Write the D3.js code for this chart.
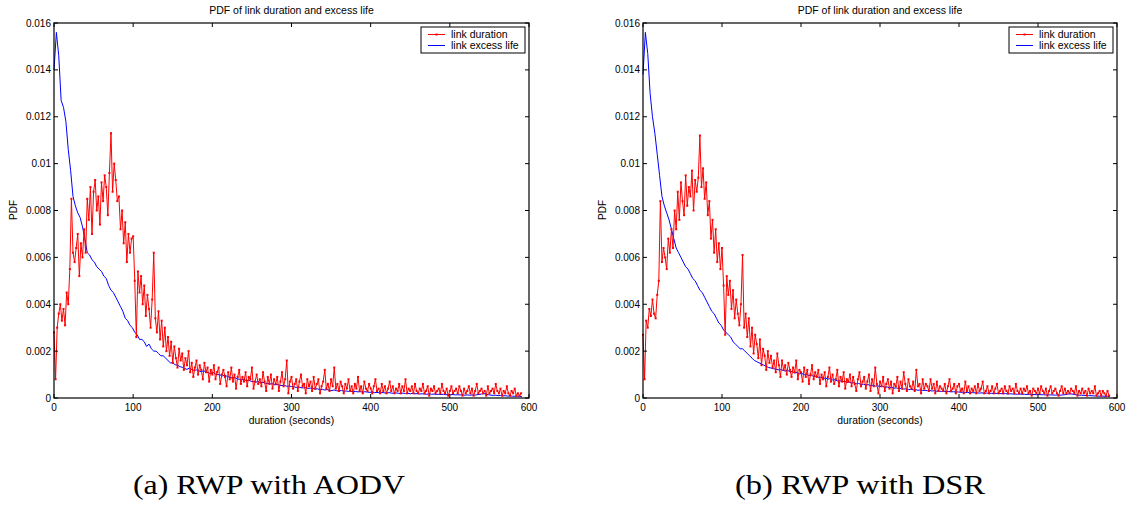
<!DOCTYPE html>
<meta charset="utf-8">
<style>
body { margin: 0; background: #fff; }
text { font-family: 'Liberation Sans', Arial, sans-serif; fill: #000; }
.caption { font-family: 'Liberation Serif', 'DejaVu Serif', serif; }
</style>
<body>
<svg width="1139" height="515"></svg>
<script src="https://d3js.org/d3.v7.min.js"></script>
<script>

// bin widths of the histograms, in seconds
var durationStep = 2;
var excessStep = 3;

var xTicks = [0, 100, 200, 300, 400, 500, 600];
var yTicks = [0, 0.002, 0.004, 0.006, 0.008, 0.01, 0.012, 0.014, 0.016];
var yTickLabels = ["0", "0.002", "0.004", "0.006", "0.008", "0.01", "0.012", "0.014", "0.016"];
var seriesNames = ["link duration", "link excess life"];
var captions = ["(a) RWP with AODV", "(b) RWP with DSR"];

// PDF values in units of 1e-4; link duration one per 2 s bin, excess life one per 3 s bin
var durationA = [
  28, 8, 30, 36, 40, 33, 38, 31, 45, 40,
  55, 85, 62, 58, 64, 70, 52, 66, 60, 72,
  62, 85, 76, 90, 70, 88, 93, 80, 86, 74,
  92, 84, 95, 90, 78, 96, 113, 88, 100, 93,
  84, 86, 72, 80, 66, 75, 58, 70, 62, 68,
  69, 50, 26, 54, 45, 52, 40, 48, 35, 44,
  38, 30, 42, 62, 34, 28, 37, 25, 33, 22,
  30, 20, 26, 18, 24, 15, 22, 17, 13, 21,
  16, 19, 12, 17, 14, 20, 11, 15, 9, 13,
  16, 10, 14, 12, 8, 15, 11, 13, 7, 12,
  10, 14, 8, 11, 13, 6, 10, 12, 9, 5,
  11, 8, 13, 7, 10, 4, 9, 12, 6, 9,
  7, 11, 5, 9, 8, 13, 4, 7, 10, 6,
  8, 5, 11, 7, 3, 9, 6, 10, 4, 8,
  6, 9, 3, 7, 11, 5, 8, 16, 2, 7,
  9, 4, 6, 8, 3, 7, 10, 5, 6, 2,
  8, 5, 7, 3, 9, 4, 6, 8, 2, 5,
  7, 12, 4, 6, 3, 8, 5, 13, 4, 6,
  3, 7, 5, 2, 6, 4, 8, 3, 5, 2,
  6, 4, 9, 3, 5, 2, 7, 4, 3, 6,
  4, 2, 5, 8, 3, 4, 2, 6, 3, 5,
  2, 4, 7, 3, 5, 2, 4, 3, 6, 2,
  5, 3, 8, 2, 4, 3, 5, 2, 6, 3,
  2, 4, 3, 6, 2, 3, 5, 1, 4, 3,
  5, 2, 3, 4, 2, 6, 3, 2, 4, 1,
  3, 5, 2, 3, 4, 2, 5, 3, 1, 4,
  2, 3, 5, 2, 4, 1, 3, 6, 2, 3,
  4, 2, 3, 1, 5, 2, 3, 4, 2, 6,
  3, 2, 4, 1, 3, 2, 5, 2, 1, 3,
  2, 4, 1, 2, 1, 2
];

var excessA = [
  140, 156, 146, 127, 124, 118, 106, 97, 86, 82,
  79, 77, 73, 68, 62, 61, 59, 58, 56, 55,
  54, 52, 51, 48, 46, 45, 43, 41, 39, 37,
  34, 33, 31, 30, 28, 27, 25, 25, 24, 22,
  23, 21, 20, 20, 19, 18, 18, 17, 16, 15,
  15, 14.2, 14, 13.4, 13.1, 12.6, 12.2, 12.8, 12.1, 11.8,
  12.0, 11.6, 11.2, 11.7, 11.0, 10.8, 10.4, 10.9, 10.2, 10.0,
  9.8, 9.4, 9.8, 9.1, 8.9, 8.5, 8.8, 8.2, 8.0, 7.8,
  7.9, 7.4, 7.6, 7.1, 7.0, 6.8, 7.0, 6.5, 6.7, 6.3,
  6.2, 6.0, 6.1, 5.6, 5.8, 5.4, 5.3, 5.4, 5.0, 5.1,
  4.9, 4.8, 4.5, 4.7, 4.4, 4.3, 4.4, 4.1, 4.2, 4.0,
  3.8, 3.9, 3.5, 3.7, 3.4, 3.6, 3.3, 3.2, 3.4, 3.1,
  3.0, 3.2, 2.9, 3.0, 2.8, 2.9, 2.7, 2.8, 2.6, 2.7,
  2.5, 2.7, 2.5, 2.4, 2.6, 2.3, 2.4, 2.2, 2.4, 2.2,
  2.1, 2.3, 2.1, 2.0, 2.2, 2.0, 1.9, 2.1, 1.9, 2.0,
  1.8, 2.0, 1.8, 1.9, 1.7, 1.8, 1.7, 1.6, 1.8, 1.6,
  1.7, 1.5, 1.6, 1.5, 1.6, 1.4, 1.5, 1.4, 1.5, 1.3,
  1.4, 1.3, 1.4, 1.2, 1.3, 1.2, 1.3, 1.2, 1.4, 1.5,
  1.7, 1.9, 1.6, 1.4, 1.2, 1.1, 1.2, 1.0, 1.1, 0.9,
  1.0, 0.8, 0.9, 0.8, 0.7, 0.8, 0.7, 0.6
];

var durationB = [
  27, 8, 33, 30, 38, 35, 42, 36, 34, 44,
  50, 84, 58, 64, 60, 55, 68, 62, 72, 64,
  80, 72, 88, 76, 92, 84, 78, 95, 82, 90,
  86, 97, 80, 93, 88, 94, 112, 90, 98, 85,
  92, 78, 84, 68, 76, 62, 72, 58, 66, 55,
  64, 48, 27, 52, 44, 50, 38, 46, 34, 42,
  36, 31, 40, 61, 30, 36, 26, 34, 22, 30,
  19, 27, 23, 17, 25, 14, 21, 18, 12, 20,
  15, 18, 13, 16, 11, 19, 14, 9, 16, 12,
  14, 10, 15, 12, 9, 13, 11, 16, 8, 12,
  11, 7, 13, 9, 12, 6, 10, 14, 8, 11,
  9, 12, 6, 10, 8, 11, 5, 9, 13, 7,
  10, 6, 8, 12, 5, 9, 7, 11, 4, 8,
  7, 10, 5, 9, 6, 3, 8, 11, 5, 7,
  9, 4, 7, 10, 3, 8, 5, 13, 6, 2,
  7, 5, 9, 3, 6, 8, 4, 7, 2, 6,
  5, 9, 3, 7, 4, 11, 6, 3, 8, 5,
  4, 7, 3, 12, 5, 6, 2, 8, 4, 6,
  5, 3, 8, 4, 6, 2, 7, 3, 5, 4,
  3, 6, 2, 5, 8, 3, 4, 6, 2, 5,
  6, 3, 4, 2, 7, 3, 5, 2, 4, 3,
  5, 2, 6, 3, 4, 7, 2, 3, 5, 2,
  3, 5, 2, 4, 6, 2, 3, 4, 2, 5,
  3, 2, 5, 3, 4, 2, 6, 3, 2, 4,
  2, 4, 3, 5, 2, 3, 1, 4, 3, 2,
  4, 2, 5, 3, 2, 4, 1, 3, 5, 2,
  3, 4, 2, 1, 3, 5, 2, 4, 2, 3,
  2, 4, 3, 2, 5, 1, 3, 2, 4, 2,
  3, 1, 4, 2, 3, 2, 5, 1, 2, 3,
  1, 3, 2, 1, 3, 1
];

var excessB = [
  138, 156, 147, 130, 120, 113, 104, 95, 86, 82,
  79, 76, 72, 68, 64, 62, 60, 58, 56, 55,
  53, 51, 50, 48, 46, 45, 43, 41, 39, 37,
  36, 34, 32, 31, 29, 28, 27, 26, 24, 23,
  22, 21, 21, 20, 19, 18, 17, 16, 15.5, 15,
  14.5, 14, 13.5, 13, 12.8, 12.5, 12.3, 12, 12.2, 11.8,
  11.5, 11.9, 11.1, 11.3, 10.7, 10.9, 10.3, 10.5, 9.9, 10.1,
  9.6, 9.8, 9.2, 9.3, 8.8, 8.9, 8.4, 8.5, 8.1, 8.2,
  7.7, 7.8, 7.3, 7.4, 7.0, 7.1, 6.7, 6.8, 6.4, 6.5,
  6.1, 6.2, 5.8, 5.9, 5.6, 5.7, 5.3, 5.4, 5.1, 5.2,
  4.9, 5.0, 4.6, 4.7, 4.4, 4.5, 4.2, 4.3, 4.0, 4.1,
  3.8, 3.9, 3.6, 3.7, 3.5, 3.6, 3.3, 3.4, 3.2, 3.3,
  3.1, 3.2, 3.0, 3.1, 2.9, 2.9, 2.8, 2.9, 2.7, 2.8,
  2.6, 2.7, 2.5, 2.6, 2.4, 2.5, 2.3, 2.4, 2.2, 2.3,
  2.2, 2.2, 2.1, 2.2, 2.0, 2.1, 2.0, 2.0, 1.9, 2.0,
  1.9, 1.9, 1.8, 1.9, 1.7, 1.8, 1.7, 1.7, 1.6, 1.7,
  1.6, 1.6, 1.5, 1.6, 1.5, 1.5, 1.4, 1.5, 1.4, 1.4,
  1.3, 1.4, 1.3, 1.3, 1.2, 1.3, 1.2, 1.3, 1.4, 1.6,
  1.8, 1.7, 1.5, 1.3, 1.2, 1.2, 1.1, 1.1, 1.0, 1.0,
  0.9, 0.9, 0.8, 0.8, 0.8, 0.7, 0.7, 0.6
];

var svg = d3.select("svg");

var panels = [
  {left: 54, right: 529, duration: durationA, excess: excessA, caption: captions[0], capX: 133, capW: 272},
  {left: 643, right: 1117, duration: durationB, excess: excessB, caption: captions[1], capX: 735, capW: 250}
];
var plotTop = 23, plotBottom = 398;

panels.forEach(function(p) {
  var x = d3.scaleLinear().domain([0, 600]).range([p.left, p.right]);
  var y = d3.scaleLinear().domain([0, 0.016]).range([plotBottom, plotTop]);
  var g = svg.append("g");

  var toPts = (arr, step) => arr.map((v, i) => [i * step, v / 10000]);
  var line = d3.line().x(d => x(d[0])).y(d => y(d[1]));

  // data
  var dur = toPts(p.duration, durationStep), exc = toPts(p.excess, excessStep);
  g.append("path").attr("d", line(exc))
    .attr("fill", "none").attr("stroke", "#0000ff").attr("stroke-width", 1);
  g.append("path").attr("d", line(dur))
    .attr("fill", "none").attr("stroke", "#ff0000").attr("stroke-width", 1);
  g.selectAll(".dot").data(dur).enter().append("rect")
    .attr("x", d => x(d[0]) - 1).attr("y", d => y(d[1]) - 1)
    .attr("width", 2).attr("height", 2).attr("fill", "#ff0000");

  // box
  g.append("rect").attr("x", p.left).attr("y", plotTop)
    .attr("width", p.right - p.left).attr("height", plotBottom - plotTop)
    .attr("fill", "none").attr("stroke", "#000").attr("stroke-width", 1.2);

  // ticks, inward on all four sides
  var tl = 4;
  xTicks.forEach(function(t) {
    g.append("line").attr("x1", x(t)).attr("x2", x(t)).attr("y1", plotBottom).attr("y2", plotBottom - tl).attr("stroke", "#000");
    g.append("line").attr("x1", x(t)).attr("x2", x(t)).attr("y1", plotTop).attr("y2", plotTop + tl).attr("stroke", "#000");
    g.append("text").attr("x", x(t)).attr("y", plotBottom + 13)
      .attr("text-anchor", "middle").attr("font-size", 10).text(t);
  });
  yTicks.forEach(function(t, i) {
    g.append("line").attr("x1", p.left).attr("x2", p.left + tl).attr("y1", y(t)).attr("y2", y(t)).attr("stroke", "#000");
    g.append("line").attr("x1", p.right).attr("x2", p.right - tl).attr("y1", y(t)).attr("y2", y(t)).attr("stroke", "#000");
    g.append("text").attr("x", p.left - 3).attr("y", y(t) + 3.5)
      .attr("text-anchor", "end").attr("font-size", 10).text(yTickLabels[i]);
  });

  var cx = (p.left + p.right) / 2;
  g.append("text").attr("x", cx).attr("y", 14).attr("text-anchor", "middle")
    .attr("font-size", 10.5).text("PDF of link duration and excess life");
  g.append("text").attr("x", cx).attr("y", 424).attr("text-anchor", "middle")
    .attr("font-size", 10.3).text("duration (seconds)");
  g.append("text").attr("transform", "translate(" + (p.left - 37) + "," + 210 + ") rotate(-90)")
    .attr("text-anchor", "middle").attr("font-size", 10).text("PDF");

  // legend
  var lx = p.right - 108, ly = 27;
  g.append("rect").attr("x", lx).attr("y", ly).attr("width", 104).attr("height", 26)
    .attr("fill", "#fff").attr("stroke", "#000").attr("stroke-width", 1);
  var colors = ["#ff0000", "#0000ff"];
  seriesNames.forEach(function(name, i) {
    var yy = ly + 7.5 + i * 11;
    g.append("line").attr("x1", lx + 7).attr("x2", lx + 24).attr("y1", yy).attr("y2", yy)
      .attr("stroke", colors[i]).attr("stroke-width", 1);
    if (i === 0) g.append("rect").attr("x", lx + 14.5).attr("y", yy - 1).attr("width", 2).attr("height", 2).attr("fill", colors[i]);
    g.append("text").attr("x", lx + 30).attr("y", yy + 3.5).attr("font-size", 10.5).text(name);
  });

  g.append("text").attr("class", "caption").attr("x", p.capX).attr("y", 494)
    .attr("font-size", 27).attr("textLength", p.capW)
    .attr("lengthAdjust", "spacingAndGlyphs").text(p.caption);
});

</script>
